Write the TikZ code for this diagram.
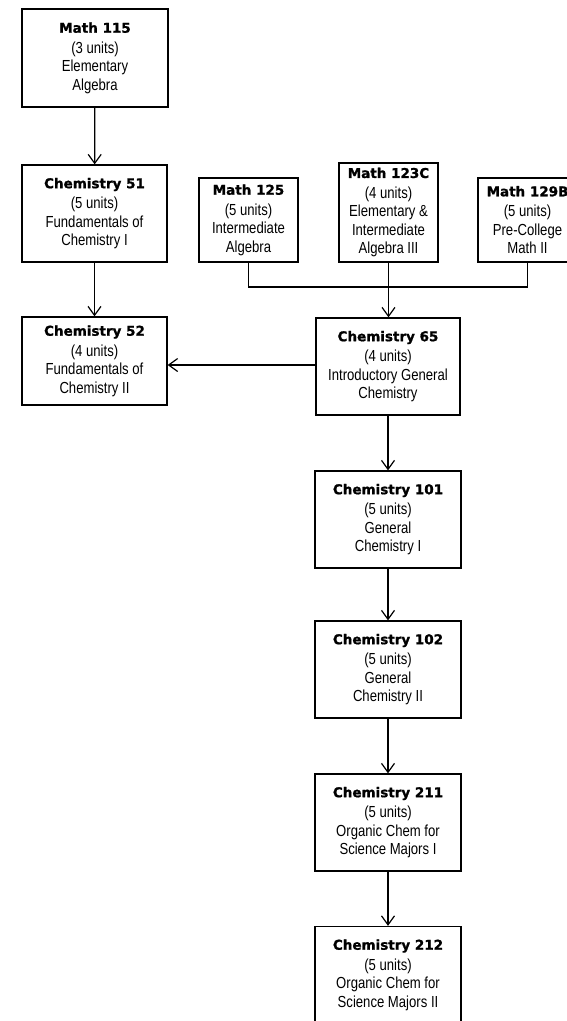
\documentclass[tikz,border=0pt]{standalone}
\usepackage{fontspec}
\usetikzlibrary{arrows.meta}
\newfontfamily\bodyfont[FakeStretch=0.82]{Liberation Sans}
\newfontfamily\titlefont[BoldFeatures={FakeBold=1.2}]{DejaVu Sans}
\newcommand{\course}[4]{{\titlefont\bfseries\fontsize{13.5}{15}\selectfont #1}\\[2pt]#2\\#3\\#4}
\begin{document}
\begin{tikzpicture}[x=1pt,y=-1pt,
  box/.style={draw=black, line width=1.3pt, fill=white, align=center, inner sep=0pt,
    font=\bodyfont\fontsize{16}{18.5}\selectfont},
  wide/.style={box, minimum width=145pt, minimum height=97pt},
  narrow/.style={box, minimum width=99pt},
  conn/.style={line width=1.3pt},
  arr/.style={conn, -{Straight Barb[length=9pt,width=13pt,line width=1.2pt]}}]
\useasboundingbox (0,0) rectangle (566,1021);
\fill[white] (0,0) rectangle (566,1021);

\node[wide, minimum width=146pt, minimum height=98pt] (m115) at (95,58) {\course{Math 115}{(3 units)}{Elementary}{Algebra}};
\node[wide] (c51) at (94.5,213.5) {\course{Chemistry 51}{(5 units)}{Fundamentals of}{Chemistry I}};
\node[wide, minimum height=88pt] (c52) at (94.5,361) {\course{Chemistry 52}{(4 units)}{Fundamentals of}{Chemistry II}};
\node[narrow, minimum height=84pt] (m125) at (248.5,220) {\course{Math 125}{(5 units)}{Intermediate}{Algebra}};
\node[narrow, minimum height=99pt] (m123) at (388.5,212.5) {\course{Math 123C}{(4 units)}{Elementary \&}{Intermediate\\Algebra III}};
\node[narrow, minimum height=84pt] (m129) at (527.5,220) {\course{Math 129B}{(5 units)}{Pre-College}{Math II}};
\node[wide, minimum width=144pt] (c65) at (388,366.5) {\course{Chemistry 65}{(4 units)}{Introductory General}{Chemistry}};
\node[wide, minimum width=146pt] (c101) at (388,519.5) {\course{Chemistry 101}{(5 units)}{General}{Chemistry I}};
\node[wide, minimum width=146pt] (c102) at (388,669.5) {\course{Chemistry 102}{(5 units)}{General}{Chemistry II}};
\node[wide, minimum width=146pt] (c211) at (388,822.5) {\course{Chemistry 211}{(5 units)}{Organic Chem for}{Science Majors I}};
\node[wide, minimum width=146pt] (c212) at (388,975) {\course{Chemistry 212}{(5 units)}{Organic Chem for}{Science Majors II}};

\coordinate (j) at (388.5,287);
\draw[arr] (m115) -- (c51);
\draw[arr] (c51) -- (c52);
\draw[conn] (m125.south) |- (j);
\draw[conn] (m129.south) |- (j);
\draw[arr] (m123.south) -- (m123.south |- c65.north);
\draw[arr] (c65.west |- 0,365) -- (c52.east |- 0,365);
\draw[arr] (c65) -- (c101);
\draw[arr] (c101) -- (c102);
\draw[arr] (c102) -- (c211);
\draw[arr] (c211) -- (c212);
\end{tikzpicture}
\end{document}
